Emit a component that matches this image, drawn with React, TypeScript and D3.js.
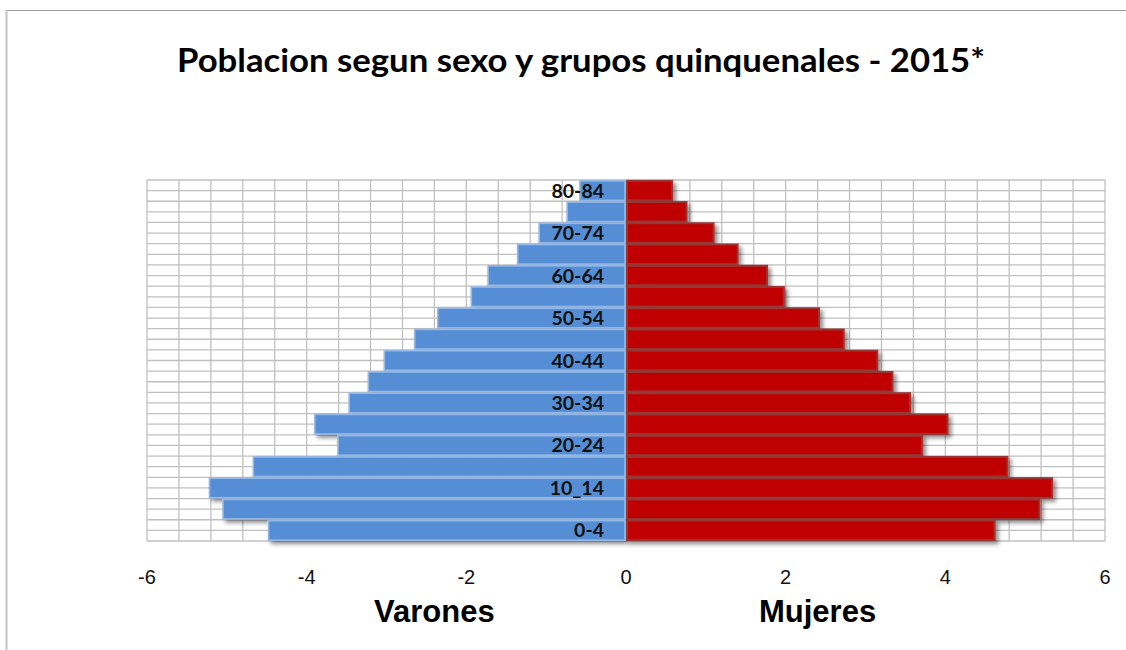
import React, { useRef, useEffect } from 'react';
import * as d3 from 'd3';

// age groups, bottom to top
const groups = ['0-4', '5-9', '10_14', '15-19', '20-24', '25-29', '30-34', '35-39', '40-44',
    '45-49', '50-54', '55-59', '60-64', '65-69', '70-74', '75-79', '80-84'];
const shownGroups = ['0-4', '10_14', '20-24', '30-34', '40-44', '50-54', '60-64', '70-74', '80-84'];

// percent of population
const varones = [-4.49, -5.06, -5.23, -4.68, -3.62, -3.91, -3.48, -3.24, -3.04,
    -2.66, -2.37, -1.95, -1.74, -1.37, -1.10, -0.75, -0.59];
const mujeres = [4.63, 5.19, 5.35, 4.79, 3.72, 4.04, 3.57, 3.35, 3.16,
    2.74, 2.43, 1.99, 1.78, 1.41, 1.11, 0.77, 0.59];

const xTicks = [-6, -4, -2, 0, 2, 4, 6];
const title = 'Poblacion segun sexo y grupos quinquenales - 2015*';

const App = () => {
    const svgRef = useRef<SVGSVGElement>(null);

    useEffect(() => {
        const svg = d3.select(svgRef.current);
        svg.selectAll('*').remove();

        const width = 1126;
        const height = 650;
        const plot = { left: 147, right: 1105, top: 180, bottom: 541 };

        svg.attr('width', width).attr('height', height);

        const defs = svg.append('defs');
        const shadow = defs.append('filter').attr('id', 'shadow')
            .attr('x', '-5%').attr('y', '-30%').attr('width', '115%').attr('height', '180%');
        shadow.append('feDropShadow')
            .attr('dx', 3).attr('dy', 3).attr('stdDeviation', 2)
            .attr('flood-color', '#000').attr('flood-opacity', 0.45);

        svg.append('rect')
            .attr('width', width).attr('height', height).attr('fill', '#fff');

        // chart frame
        svg.append('line')
            .attr('x1', 6).attr('x2', width).attr('y1', 10.5).attr('y2', 10.5)
            .attr('stroke', '#9a9a9a').attr('stroke-width', 1);
        svg.append('line')
            .attr('x1', 6.5).attr('x2', 6.5).attr('y1', 10).attr('y2', height)
            .attr('stroke', '#c4c4c4').attr('stroke-width', 2);

        const x = d3.scaleLinear()
            .domain([-6, 6])
            .range([plot.left, plot.right]);

        const y = d3.scaleBand()
            .domain(groups.slice().reverse())
            .range([plot.top, plot.bottom])
            .paddingInner(0.08)
            .paddingOuter(0.04);

        const step = y.step();

        // gridlines
        const grid = svg.append('g').attr('stroke', '#c0c0c0').attr('stroke-width', 1.3);
        grid.selectAll('.vgrid')
            .data(d3.range(-6, 6.001, 0.4))
            .enter().append('line')
            .attr('x1', d => x(d)).attr('x2', d => x(d))
            .attr('y1', plot.top).attr('y2', plot.bottom);
        grid.selectAll('.hgrid')
            .data(d3.range(0, groups.length * 2 + 1))
            .enter().append('line')
            .attr('x1', plot.left).attr('x2', plot.right)
            .attr('y1', d => plot.top + d * step / 2)
            .attr('y2', d => plot.top + d * step / 2);

        const rows = groups.map((g, i) => ({ group: g, v: varones[i], m: mujeres[i] }));

        // Varones bars
        svg.append('g')
            .attr('filter', 'url(#shadow)')
            .selectAll('rect')
            .data(rows)
            .enter().append('rect')
            .attr('x', d => x(d.v) + 1)
            .attr('y', d => y(d.group))
            .attr('width', d => x(0) - x(d.v) - 2)
            .attr('height', y.bandwidth())
            .attr('fill', '#558ed5')
            .attr('stroke', '#95b9e7')
            .attr('stroke-width', 1.6);

        // Mujeres bars
        svg.append('g')
            .attr('filter', 'url(#shadow)')
            .selectAll('rect')
            .data(rows)
            .enter().append('rect')
            .attr('x', x(0) + 1)
            .attr('y', d => y(d.group))
            .attr('width', d => x(d.m) - x(0) - 2)
            .attr('height', y.bandwidth())
            .attr('fill', '#c00000')
            .attr('stroke', '#953735')
            .attr('stroke-width', 2);

        // category labels
        svg.append('g')
            .selectAll('text')
            .data(shownGroups)
            .enter().append('text')
            .attr('x', x(0) - 22)
            .attr('y', d => y(d) + y.bandwidth() / 2 + 7)
            .attr('text-anchor', 'end')
            .style('font-family', 'Lato, "Open Sans", sans-serif')
            .style('font-weight', 'bold')
            .style('font-size', '19.5px')
            .attr('fill', '#111')
            .text(d => d);

        // x tick labels
        svg.append('g')
            .selectAll('text')
            .data(xTicks)
            .enter().append('text')
            .attr('x', d => x(d))
            .attr('y', 584)
            .attr('text-anchor', 'middle')
            .style('font-family', '"Liberation Sans", Arial, sans-serif')
            .style('font-size', '20px')
            .attr('fill', '#111')
            .text(d => d);

        // axis titles
        svg.append('text')
            .attr('x', x(-2.4))
            .attr('y', 622)
            .attr('text-anchor', 'middle')
            .style('font-family', '"Liberation Sans", Arial, sans-serif')
            .style('font-weight', 'bold')
            .style('font-size', '31px')
            .text('Varones');
        svg.append('text')
            .attr('x', x(2.4))
            .attr('y', 622)
            .attr('text-anchor', 'middle')
            .style('font-family', '"Liberation Sans", Arial, sans-serif')
            .style('font-weight', 'bold')
            .style('font-size', '31px')
            .text('Mujeres');

        svg.append('text')
            .attr('x', 177)
            .attr('y', 72)
            .attr('textLength', 808)
            .attr('lengthAdjust', 'spacingAndGlyphs')
            .style('font-family', 'Lato, "Open Sans", sans-serif')
            .style('font-weight', 'bold')
            .style('font-size', '33px')
            .attr('fill', '#000')
            .text(title);
    }, []);

    return (
        <svg ref={svgRef} style={{ position: 'absolute', left: 0, top: 0, display: 'block' }}></svg>
    );
};

export default App;
